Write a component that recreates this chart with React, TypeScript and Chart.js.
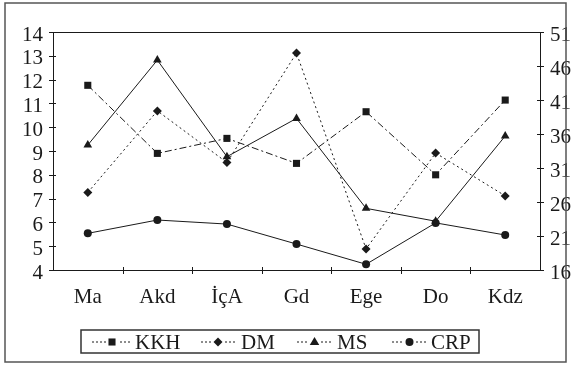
import React, { useEffect, useRef } from "react";
import { Chart, registerables } from "chart.js";

Chart.register(...registerables);

const categories = ["Ma", "Akd", "İçA", "Gd", "Ege", "Do", "Kdz"];
const kkhValues = [11.76, 8.9, 9.53, 8.48, 10.65, 8.0, 11.14];
const dmValues = [27.4, 39.4, 31.8, 47.9, 19.1, 33.2, 26.9];
const msValues = [9.25, 12.82, 8.76, 10.37, 6.59, 6.05, 9.63];
const crpValues = [5.54, 6.1, 5.93, 5.09, 4.24, 5.98, 5.47];
const seriesNames = ["KKH", "DM", "MS", "CRP"];

const FONT = "'Liberation Serif', 'Times New Roman', serif";
const INK = "#1a1a1a";

function drawMarker(ctx: CanvasRenderingContext2D, style: string, x: number, y: number, r: number) {
  ctx.save();
  ctx.fillStyle = INK;
  ctx.beginPath();
  if (style === "rect") {
    const s = Math.SQRT1_2 * r;
    ctx.rect(x - s, y - s, 2 * s, 2 * s);
  } else if (style === "rectRot") {
    ctx.moveTo(x, y - r);
    ctx.lineTo(x + r, y);
    ctx.lineTo(x, y + r);
    ctx.lineTo(x - r, y);
    ctx.closePath();
  } else if (style === "triangle") {
    ctx.moveTo(x, y - r);
    ctx.lineTo(x + r * 0.95, y + r * 0.6);
    ctx.lineTo(x - r * 0.95, y + r * 0.6);
    ctx.closePath();
  } else {
    ctx.arc(x, y, r, 0, Math.PI * 2);
  }
  ctx.fill();
  ctx.restore();
}

const decorPlugin = {
  id: "decor",
  beforeDraw(chart: any) {
    const ctx = chart.ctx;
    ctx.save();
    ctx.fillStyle = "#ffffff";
    ctx.fillRect(0, 0, chart.width, chart.height);
    ctx.restore();
  },
  afterDraw(chart: any) {
    const ctx = chart.ctx;
    const { left, right, top, bottom } = chart.chartArea;
    ctx.save();
    // outer frame
    ctx.strokeStyle = "#555";
    ctx.lineWidth = 1.5;
    ctx.strokeRect(5, 3, 561, 359);
    // plot border
    ctx.strokeStyle = INK;
    ctx.lineWidth = 1;
    ctx.strokeRect(Math.round(left) + 0.5, Math.round(top) + 0.5, Math.round(right - left), Math.round(bottom - top));
    // cross ticks
    const y = chart.scales.y;
    const y1 = chart.scales.y1;
    const x = chart.scales.x;
    ctx.beginPath();
    y.ticks.forEach((t: any) => {
      const py = Math.round(y.getPixelForValue(t.value)) + 0.5;
      ctx.moveTo(left - 4, py);
      ctx.lineTo(left + 3, py);
    });
    y1.ticks.forEach((t: any) => {
      const py = Math.round(y1.getPixelForValue(t.value)) + 0.5;
      ctx.moveTo(right - 3, py);
      ctx.lineTo(right + 4, py);
    });
    for (let i = 1; i < categories.length; i++) {
      const px = Math.round((x.getPixelForValue(i - 1) + x.getPixelForValue(i)) / 2) + 0.5;
      ctx.moveTo(px, bottom - 3);
      ctx.lineTo(px, bottom + 4);
    }
    ctx.stroke();

    // legend
    const lx = 81, ly = 330, lw = 398, lh = 23;
    ctx.strokeStyle = "#333";
    ctx.lineWidth = 1.5;
    ctx.strokeRect(lx, ly, lw, lh);
    const cy = ly + lh / 2 + 0.5;
    const items = [
      { start: 92, end: 132, text: 135 },
      { start: 201, end: 235, text: 241 },
      { start: 297, end: 332, text: 337 },
      { start: 392, end: 427, text: 431 },
    ];
    chart.data.datasets.forEach((ds: any, i: number) => {
      const it = items[i];
      ctx.save();
      ctx.strokeStyle = INK;
      ctx.lineWidth = 1;
      ctx.setLineDash([2, 2]);
      ctx.beginPath();
      ctx.moveTo(it.start, cy);
      ctx.lineTo(it.end, cy);
      ctx.stroke();
      ctx.restore();
      const mx = (it.start + it.end) / 2;
      ctx.save();
      ctx.fillStyle = "#ffffff";
      ctx.fillRect(mx - 6, cy - 6, 12, 12);
      ctx.restore();
      drawMarker(ctx, ds.pointStyle, mx, cy, ds.pointRadius);
      ctx.fillStyle = INK;
      ctx.font = `21px ${FONT}`;
      ctx.textBaseline = "middle";
      ctx.textAlign = "left";
      ctx.fillText(ds.label, it.text, cy + 1);
    });
    ctx.restore();
  },
};

export default function App() {
  const ref = useRef<HTMLCanvasElement>(null);
  useEffect(() => {
    document.body.style.margin = "0";
    const mk = (label: string, data: number[], style: string, r: number, dash: number[], axis: string) => ({
      label,
      data,
      yAxisID: axis,
      borderColor: INK,
      backgroundColor: INK,
      pointBackgroundColor: INK,
      pointBorderColor: INK,
      pointBorderWidth: 0,
      borderWidth: 1,
      borderDash: dash,
      pointStyle: style,
      pointRadius: r,
      tension: 0,
      fill: false,
    });
    const tickFont = { family: FONT, size: 21 };
    const chart = new Chart(ref.current!, {
      type: "line",
      data: {
        labels: categories,
        datasets: [
          mk(seriesNames[0], kkhValues, "rect", 5, [7, 3, 2, 3], "y"),
          mk(seriesNames[1], dmValues, "rectRot", 4.5, [2, 3], "y1"),
          mk(seriesNames[2], msValues, "triangle", 5, [], "y"),
          mk(seriesNames[3], crpValues, "circle", 4, [], "y"),
        ],
      },
      options: {
        animation: false,
        responsive: false,
        maintainAspectRatio: false,
        layout: { padding: { top: 32, left: 0, right: 0, bottom: 0 } },
        plugins: { legend: { display: false }, tooltip: { enabled: false } },
        scales: {
          x: {
            offset: true,
            grid: { display: false, offset: true, drawTicks: false },
            border: { display: false },
            ticks: { color: INK, font: tickFont, padding: 15, maxRotation: 0, autoSkip: false },
            afterFit: (s: any) => { s.height = 95; },
          },
          y: {
            position: "left",
            min: 4,
            max: 14,
            grid: { display: false, drawTicks: false },
            border: { display: false },
            ticks: { stepSize: 1, color: INK, font: tickFont, padding: 10, autoSkip: false, labelOffset: 3 },
            afterFit: (s: any) => { s.width = 53; },
          },
          y1: {
            position: "right",
            min: 16,
            max: 51,
            grid: { display: false, drawTicks: false },
            border: { display: false },
            ticks: { stepSize: 5, color: INK, font: tickFont, padding: 10, autoSkip: false, labelOffset: 3 },
            afterFit: (s: any) => { s.width = 32; },
          },
        },
      } as any,
      plugins: [decorPlugin],
    });
    return () => chart.destroy();
  }, []);
  return (
    <div style={{ width: 572, height: 365 }}>
      <canvas ref={ref} width={572} height={365} style={{ display: "block" }} />
    </div>
  );
}
